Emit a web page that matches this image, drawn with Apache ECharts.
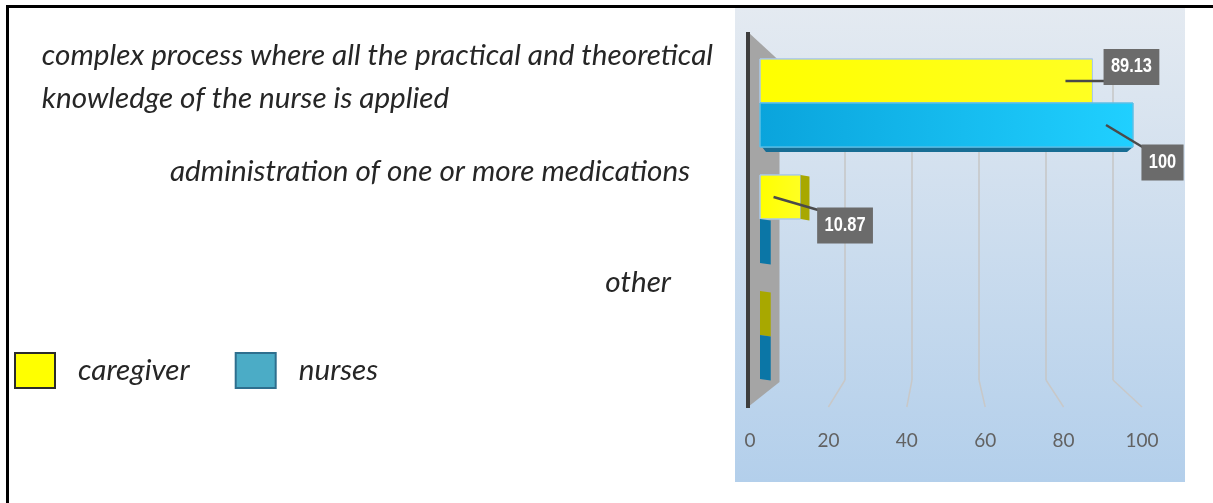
<!DOCTYPE html>
<html><head><meta charset="utf-8">
<script src="https://cdn.jsdelivr.net/npm/echarts@6/dist/echarts.min.js"></script>
<style>html,body{margin:0;padding:0;background:#fff;} #c{width:1213px;height:503px;}</style>
</head><body><div id="c"></div>
<script>
// ---- data ----
const categories = [
  'complex process where all the practical and theoretical\nknowledge of the nurse is applied',
  'administration of one or more medications',
  'other'
];
const seriesNames = ['caregiver', 'nurses'];
const caregiverValues = [89.13, 10.87, 0];
const nursesValues = [100, 0, 0];
const xTicks = [0, 20, 40, 60, 80, 100];

// ---- layout / style (not data) ----
const labelOffsets = [
  [[39, -14], [44.5, 28.5], null],
  [[29.5, 37.5], null, null]
];
const G0 = {left: 760, top: 45, width: 373, height: 348};   // bars plane
const G1 = {left: 750, top: 45, width: 392, height: 362};   // front floor (tick labels)
const G2 = {left: 778, top: 59, width: 335, height: 321};   // back wall (grid lines)

const ctx = document.createElement('canvas').getContext('2d');
function measure(text, font) { ctx.font = font; return ctx.measureText(text).width; }
const catFamily = 'Lato, "Open Sans", sans-serif';
const fitA = 100 * 512 / measure(categories[1], 'italic 100px ' + catFamily);
const fitB = 100 * 683 / measure(categories[0].split('\n')[0], 'italic 100px ' + catFamily);
const catSize = Math.round((fitA + fitB) / 2 * 10) / 10;
const lblFont = 'bold 20px "Liberation Sans", Arial, sans-serif';
const lblScale = 0.82;

const catStyle = {fontSize: catSize, fontStyle: 'italic', fontFamily: catFamily, color: '#262626'};
const rich = {
  m0: Object.assign({align: 'left', lineHeight: 43, padding: [0, 0, 53, 0]}, catStyle),
  e0: Object.assign({align: 'left', lineHeight: 43, padding: [0, 0, 53, 0]}, catStyle),
  e1: Object.assign({padding: [0, 23, 96, 0]}, catStyle),
  e2: Object.assign({padding: [0, 42, 106, 0]}, catStyle)
};

const frontFill = [
  new echarts.graphic.LinearGradient(0, 0, 1, 0, [{offset: 0, color: '#ffff00'}, {offset: 1, color: '#ffff22'}]),
  new echarts.graphic.LinearGradient(0, 0, 1, 0, [{offset: 0, color: '#0aa4dc'}, {offset: 1, color: '#20d0ff'}])
];
const frontStroke = ['#a9c8ea', '#5cbfe6'];
const sideFill = ['#a8a800', '#0b76a6'];

function renderBar(params, api) {
  const si = params.seriesIndex;
  const v = api.value(0), ci = api.value(1);
  const base = api.coord([0, ci]);
  const end = api.coord([v, ci]);
  const vp = api.coord([64, ci])[0];
  const band = api.size([0, 1])[1];
  const h = band * 0.38;
  const top = si === 0 ? base[1] - h : base[1];
  const x0 = base[0], x1 = end[0];
  const d = Math.max(0, (vp - x1) * 0.045);
  const children = [];
  if (si === 1 && v > 0) {
    children.push({type: 'polygon', shape: {points: [[x0 + 2, top + h], [x1, top + h], [x1 - 6, top + h + 5], [x0 + 6, top + h + 5]]},
      style: {fill: '#176d94'}});
  }
  if (x1 - x0 > 0.5) {
    children.push({type: 'rect', shape: {x: x0, y: top, width: x1 - x0, height: h},
      style: {fill: frontFill[si], stroke: frontStroke[si], lineWidth: 1}});
  }
  if (d > 0.5) {
    children.push({type: 'polygon', shape: {points: [[x1, top], [x1 + d, top + 1.5], [x1 + d, top + h + 1.5], [x1, top + h]]},
      style: {fill: sideFill[si]}});
  }
  const o = labelOffsets[si][ci];
  if (v > 0 && o) {
    const txt = String(v);
    const cy = top + h / 2;
    const bx = x1 + o[0], by = cy + o[1];
    const bw = (measure(txt, lblFont) + 18) * lblScale, bh = 39;
    const left = bx - bw / 2;
    const ey = Math.min(Math.max(cy, by - bh / 2 + 4), by + bh / 2 - 4);
    children.push({type: 'polyline', z2: 9, shape: {points: [[x1 - 27, cy], [left + 1, ey]]},
      style: {stroke: '#4a4a4a', lineWidth: 2.5, fill: null}});
    children.push({type: 'text', x: bx, y: by, scaleX: lblScale, z2: 10,
      style: {text: txt, fill: '#ffffff', font: lblFont, align: 'center', verticalAlign: 'middle',
        backgroundColor: '#6b6b6b', padding: [9, 9, 7, 9]}});
  }
  return {type: 'group', children};
}

const baseGraphics = [
  {type: 'rect', z: -10, shape: {x: 735, y: 8, width: 450, height: 474},
    style: {fill: new echarts.graphic.LinearGradient(0, 0, 0, 1, [{offset: 0, color: '#e4eaf1'}, {offset: 1, color: '#b3cfeb'}])}},
  {type: 'polygon', z: 1, shape: {points: [[748, 32], [779.5, 61], [779.5, 382], [748, 407]]}, style: {fill: '#a5a5a5'}},
  {type: 'rect', z: 1, shape: {x: 746, y: 32, width: 4, height: 376}, style: {fill: '#3d3d3d'}},
  {type: 'rect', z: 100, shape: {x: 6, y: 5, width: 1207, height: 3}, style: {fill: '#000'}},
  {type: 'rect', z: 100, shape: {x: 6, y: 5, width: 3, height: 498}, style: {fill: '#000'}}
];

const chart = echarts.init(document.getElementById('c'), null, {renderer: 'canvas'});
const option = {
  animation: false,
  backgroundColor: '#ffffff',
  legend: {
    left: 14, top: 352, padding: 0, itemWidth: 40, itemHeight: 35, itemGap: 45, icon: 'rect', selectedMode: false,
    textStyle: {fontSize: catSize, fontStyle: 'italic', fontFamily: catFamily, color: '#262626', padding: [0, 0, 7, 18]},
    data: [
      {name: seriesNames[0], itemStyle: {color: '#ffff00', borderColor: '#2b2b2b', borderWidth: 2}},
      {name: seriesNames[1], itemStyle: {color: '#4bacc6', borderColor: '#2e6f8e', borderWidth: 2}}
    ]
  },
  grid: [
    Object.assign({containLabel: false}, G0),
    Object.assign({containLabel: false}, G1),
    Object.assign({containLabel: false}, G2)
  ],
  xAxis: [
    {gridIndex: 0, type: 'value', min: 0, max: 100, interval: 20, show: false},
    {gridIndex: 1, type: 'value', min: xTicks[0], max: xTicks[xTicks.length - 1], interval: 20,
      axisLine: {show: false}, axisTick: {show: false}, splitLine: {show: false},
      axisLabel: {margin: 24, fontSize: 19, color: '#626262', fontFamily: 'Lato, sans-serif'}},
    {gridIndex: 2, type: 'value', min: 0, max: 100, interval: 20,
      axisLine: {show: false}, axisTick: {show: false}, axisLabel: {show: false},
      splitLine: {show: true, lineStyle: {color: '#c6c6c6', width: 1.5}}}
  ],
  yAxis: [
    {gridIndex: 0, type: 'category', inverse: true, data: categories,
      axisLine: {show: false}, axisTick: {show: false}, splitLine: {show: false},
      axisLabel: {interval: 0, margin: 47, rich: rich,
        formatter: function (value, i) {
          const lines = value.split('\n');
          return lines.map((ln, k) => '{' + (k === lines.length - 1 ? 'e' : 'm') + i + '|' + ln + '}').join('\n');
        }}},
    {gridIndex: 1, type: 'value', show: false},
    {gridIndex: 2, type: 'value', show: false}
  ],
  graphic: {elements: baseGraphics},
  series: [
    {name: seriesNames[0], type: 'custom', xAxisIndex: 0, yAxisIndex: 0, renderItem: renderBar,
      itemStyle: {color: '#ffff00'}, encode: {x: 0, y: 1},
      data: caregiverValues.map((v, i) => [v, i])},
    {name: seriesNames[1], type: 'custom', xAxisIndex: 0, yAxisIndex: 0, renderItem: renderBar,
      itemStyle: {color: '#4bacc6'}, encode: {x: 0, y: 1},
      data: nursesValues.map((v, i) => [v, i])}
  ]
};
chart.setOption(option);

// slanted floor segments of grid lines: back wall -> front edge
const backY = G2.top + G2.height, frontY = G1.top + G1.height;
const slants = xTicks.filter(t => t > 0).map(t => ({
  type: 'line', z: 0,
  shape: {x1: chart.convertToPixel({xAxisIndex: 2}, t), y1: backY, x2: chart.convertToPixel({xAxisIndex: 1}, t), y2: frontY},
  style: {stroke: '#c8c8c8', lineWidth: 1.5}
}));
chart.setOption({graphic: {elements: baseGraphics.concat(slants)}});
</script>
</body></html>
